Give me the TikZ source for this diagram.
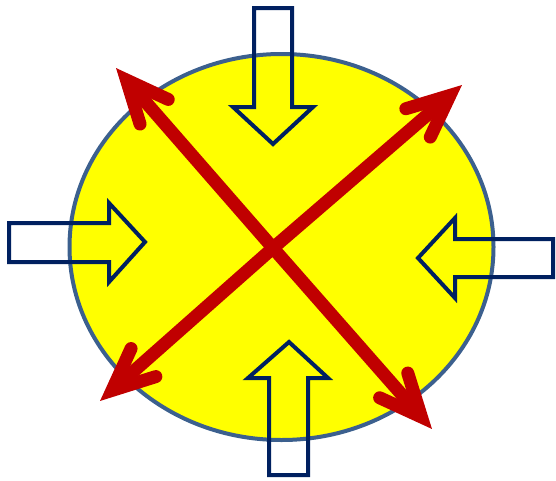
\documentclass[tikz,border=0pt]{standalone}
\usetikzlibrary{calc}
\definecolor{ellfill}{RGB}{255,255,0}
\definecolor{elldraw}{RGB}{60,96,142}
\definecolor{navy}{RGB}{0,32,96}
\definecolor{redarrow}{RGB}{192,0,0}
\tikzset{
  blockarrow/.style={draw=navy, line width=4pt, line join=miter},
  redshaft/.style={draw=redarrow, line width=13pt},
  redhead/.style={draw=redarrow, line width=13pt, line cap=round, line join=miter, miter limit=20},
}
\begin{document}
\begin{tikzpicture}[x=1pt,y=-1pt]
\useasboundingbox (0,0) rectangle (556,480);
% ellipse
\draw[fill=ellfill, draw=elldraw, line width=4pt] (281.5,247) ellipse [x radius=212, y radius=193];
% block arrows
\draw[blockarrow] (254,8) -- (292,8) -- (292,107) -- (313,107) -- (273,144) -- (233,107) -- (254,107) -- cycle;
\draw[blockarrow] (9,223) -- (109,223) -- (109,203) -- (145,242) -- (109,282) -- (109,262) -- (9,262) -- cycle;
\draw[blockarrow] (553,239) -- (455,239) -- (455,218) -- (418,258) -- (455,298) -- (455,277) -- (553,277) -- cycle;
\draw[blockarrow] (269,475) -- (308,475) -- (308,378) -- (328,378) -- (289,342) -- (248,378) -- (269,378) -- cycle;
% red arrows
\coordinate (C) at (273,248);
\coordinate (T1) at (116,68);
\coordinate (T2) at (462,85);
\coordinate (T3) at (100,401);
\coordinate (T4) at (432,429);
\foreach \t in {T1,T2,T3,T4}{
  \coordinate (B\t) at ($(\t)!16pt!(C)$);
  \draw[redshaft] (C) -- (B\t);
  \draw[redhead] ($(B\t)!46pt!24:(C)$) -- (B\t) -- ($(B\t)!46pt!-24:(C)$);
}
\end{tikzpicture}
\end{document}
